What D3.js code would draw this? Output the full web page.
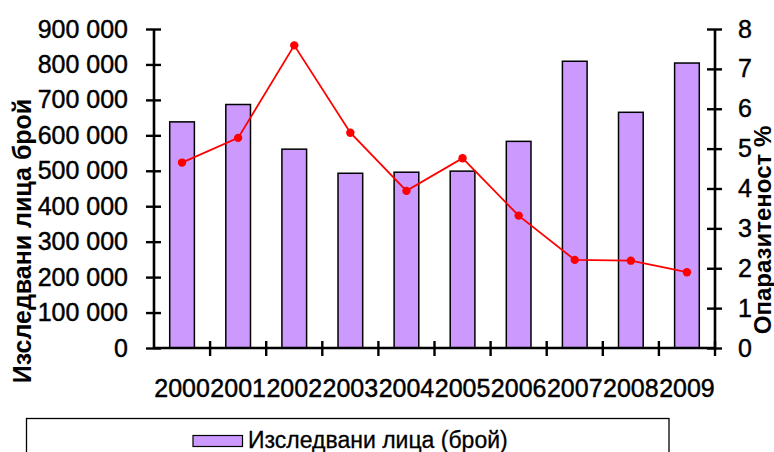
<!DOCTYPE html>
<html><head><meta charset="utf-8">
<script src="https://cdn.jsdelivr.net/npm/d3@7"></script>
<style>
html,body{margin:0;padding:0;background:#fff;}
svg{display:block;font-family:"Liberation Sans",Arial,sans-serif;}
</style></head>
<body><svg id="c" width="774" height="452"></svg>
<script>
const years = ["2000","2001","2002","2003","2004","2005","2006","2007","2008","2009"];
const examined = [638000,687000,561000,493000,496000,499000,583000,809000,665000,804000];
const infestation = [4.65,5.27,7.59,5.40,3.94,4.76,3.32,2.21,2.19,1.90];
const leftTicks = [0,100000,200000,300000,400000,500000,600000,700000,800000,900000];
const rightTicks = [0,1,2,3,4,5,6,7,8];
const leftTitle = "Изследвани лица брой";
const rightTitle = "Опаразитеност %";
const legendLabel = "Изследвани лица (брой)";

const svg = d3.select("#c");
const L = 154, R = 715, T = 29, B = 348;
const x = d3.scaleBand().domain(years).range([L, R]).padding(0);
const yL = d3.scaleLinear().domain([0, 900000]).range([B, T]);
const yR = d3.scaleLinear().domain([0, 8]).range([B, T]);
const fmt = v => d3.format(",")(v).replace(/,/g, " ");

// bars
const bw = x.bandwidth() * 0.44;
svg.append("g").selectAll("rect").data(years).join("rect")
  .attr("x", (d) => x(d) + (x.bandwidth() - bw) / 2)
  .attr("y", (d, i) => yL(examined[i]))
  .attr("width", bw)
  .attr("height", (d, i) => B - yL(examined[i]))
  .attr("fill", "#CC99FF").attr("stroke", "#000").attr("stroke-width", 1.5);

// line
const cx = d => x(d) + x.bandwidth() / 2;
svg.append("path").datum(years)
  .attr("fill", "none").attr("stroke", "#FF0000").attr("stroke-width", 1.8)
  .attr("d", d3.line().x(d => cx(d)).y((d, i) => yR(infestation[i])));
svg.append("g").selectAll("circle").data(years).join("circle")
  .attr("cx", d => cx(d)).attr("cy", (d, i) => yR(infestation[i]))
  .attr("r", 4.2)
  .attr("fill", "#FF0000");

const heavy = sel => sel.attr("fill", "#000").attr("stroke", "#000").attr("stroke-width", 0.45)
  .attr("font-family", "Liberation Sans, Arial");

// left axis
const gl = svg.append("g").attr("transform", `translate(${L},0)`)
  .call(d3.axisLeft(yL).tickValues(leftTicks).tickFormat(fmt).tickSize(8).tickPadding(18));
gl.select(".domain").attr("stroke", "#000").attr("stroke-width", 2.6).attr("d", `M0,${T}V${B}`);
gl.selectAll(".tick line").attr("x1", 7).attr("stroke", "#000").attr("stroke-width", 2.4);
gl.selectAll(".tick text").attr("font-size", 25).call(heavy);

// right axis
const gr = svg.append("g").attr("transform", `translate(${R},0)`)
  .call(d3.axisRight(yR).tickValues(rightTicks).tickSize(7).tickPadding(16));
gr.select(".domain").attr("stroke", "#000").attr("stroke-width", 2.6).attr("d", `M0,${T}V${B}`);
gr.selectAll(".tick line").attr("x1", -8).attr("stroke", "#000").attr("stroke-width", 2.4);
gr.selectAll(".tick text").attr("font-size", 25).call(heavy);

// bottom axis
const gb = svg.append("g").attr("transform", `translate(0,${B})`)
  .call(d3.axisBottom(x).tickSize(0).tickPadding(31));
gb.select(".domain").attr("stroke", "#000").attr("stroke-width", 2.6).attr("d", `M${L},0H${R}`);
gb.selectAll(".tick text").attr("font-size", 25).call(heavy);
svg.append("g").selectAll("line").data(years.slice(1).map(d => x(d)).concat([R]))
  .join("line")
  .attr("x1", d => d).attr("x2", d => d).attr("y1", B - 7).attr("y2", B + 8)
  .attr("stroke", "#000").attr("stroke-width", 2.4);

// titles
svg.append("text").attr("transform", `translate(31,${241}) rotate(-90)`)
  .attr("text-anchor", "middle").attr("font-size", 25).attr("font-weight", "bold").text(leftTitle);
svg.append("text").attr("transform", `translate(770.5,${230}) rotate(-90)`)
  .attr("text-anchor", "middle").attr("font-size", 24).attr("font-weight", "bold").text(rightTitle);

// legend
svg.append("rect").attr("x", 26.5).attr("y", 418.5).attr("width", 642.5).attr("height", 60)
  .attr("fill", "none").attr("stroke", "#000").attr("stroke-width", 1.3);
svg.append("rect").attr("x", 193).attr("y", 435.5).attr("width", 49.5).attr("height", 11)
  .attr("fill", "#CC99FF").attr("stroke", "#000").attr("stroke-width", 1.2);
svg.append("text").attr("x", 248).attr("y", 447.5).attr("font-size", 23).call(heavy)
  .attr("stroke-width", 0.3).text(legendLabel);
</script></body></html>
